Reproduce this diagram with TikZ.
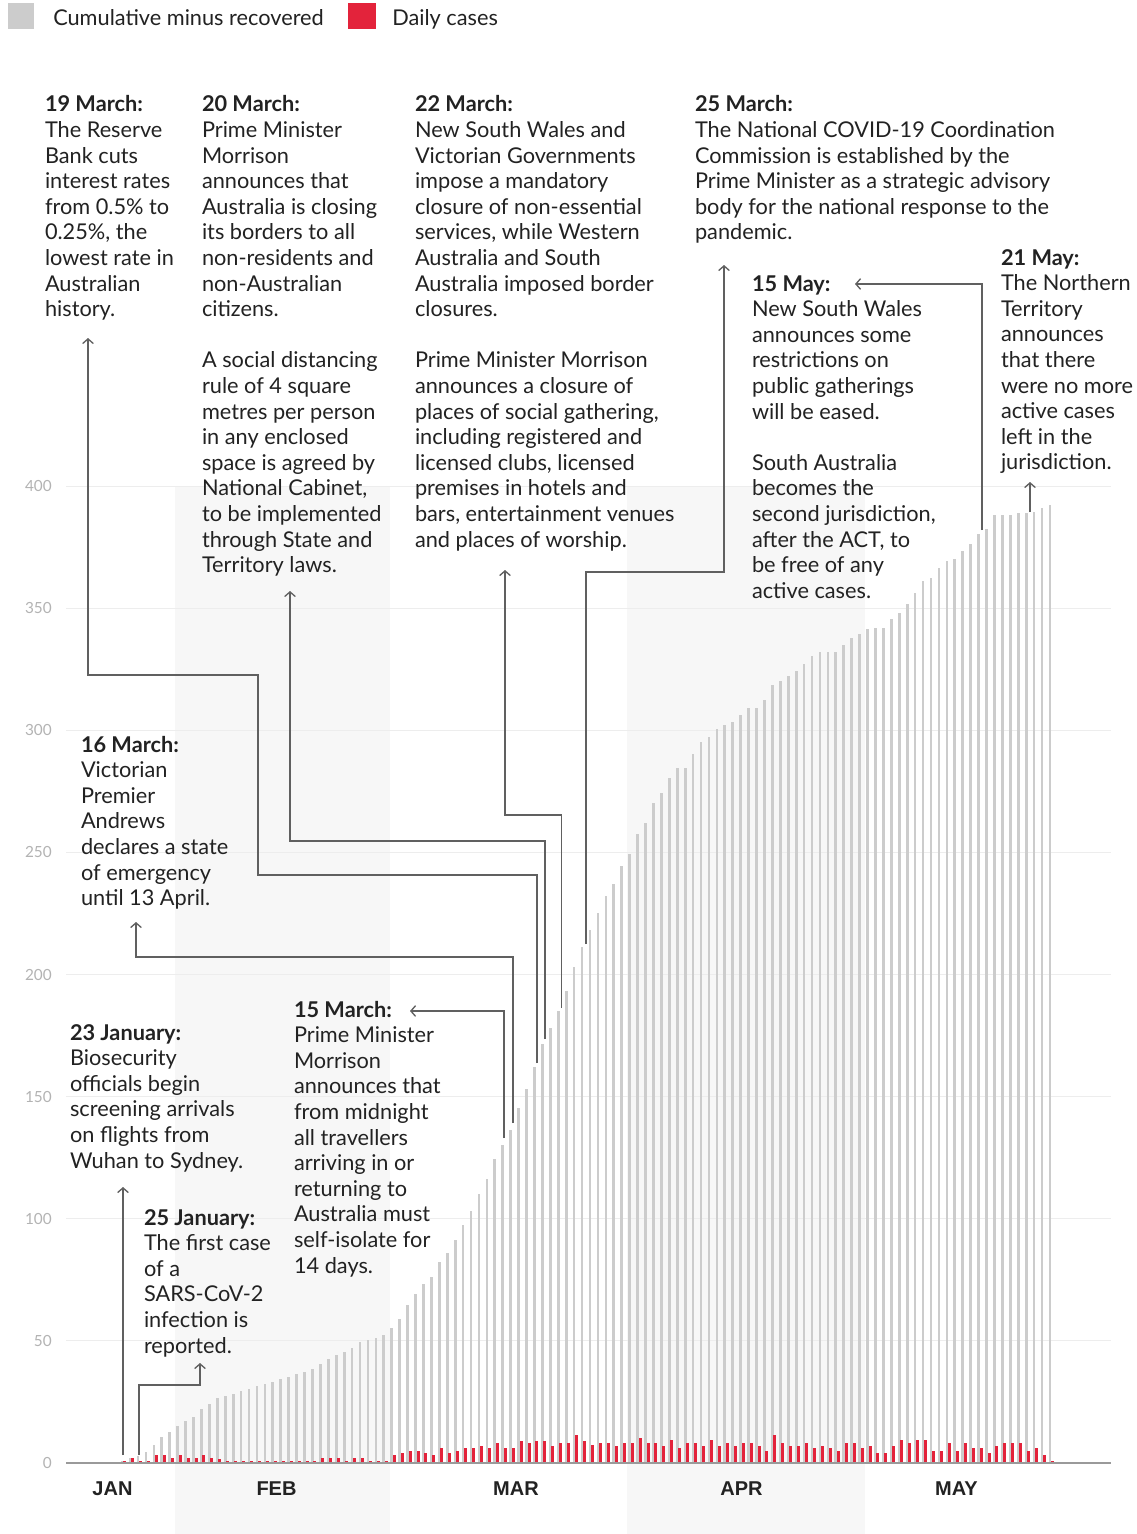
\documentclass[tikz,border=0pt]{standalone}
\usepackage{fontspec}
\setmainfont{Lato}
\newfontfamily\monthfont{Liberation Sans}
\usetikzlibrary{arrows.meta}
\definecolor{txtc}{HTML}{222222}
\definecolor{barg}{HTML}{CCCCCC}
\definecolor{barr}{HTML}{E3233B}
\definecolor{bandc}{HTML}{F7F7F7}
\definecolor{gridc}{HTML}{EDEDED}
\definecolor{connc}{HTML}{606060}
\definecolor{axlab}{HTML}{B3B3B3}
\definecolor{axisc}{HTML}{9A9A9A}
\newcommand\annblock[1]{\begin{tabular}[t]{@{}l@{}}#1\end{tabular}}
\tikzset{
  ann/.style={anchor=base west, inner sep=0pt, outer sep=0pt, text=txtc, font=\fontsize{16.3}{19.2}\selectfont},
  legtext/.style={anchor=base west, inner sep=0pt, text=txtc, font=\fontsize{16.3}{19.2}\selectfont},
  monthlab/.style={inner sep=0pt, text=txtc, font=\monthfont\bfseries\fontsize{15}{18}\selectfont},
  ylab/.style={anchor=east, inner sep=0pt, text=axlab, font=\fontsize{11.5}{14}\selectfont},
  link/.style={draw=connc, line width=1pt, -{Straight Barb[length=3.5pt,width=8pt]}},
}
\begin{document}
\begin{tikzpicture}[x=0.75pt, y=-0.75pt]
\useasboundingbox (0,0) rectangle (1137,1534);
\fill[white] (0,0) rectangle (1137,1534);
% month bands
\fill[bandc] (175,486) rectangle (390,1534);
\fill[bandc] (627,486) rectangle (865,1534);
% grid lines and y labels
\foreach \v in {50,100,...,400} {
  \draw[gridc, line width=0.75pt] (66,{1463-2.4425*\v}) -- (1111,{1463-2.4425*\v});
}
\foreach \v in {0,50,100,...,400} {
  \node[ylab] (ylab\v) at (52,{1463-2.4425*\v}) {\v};
}
% gray bars (cumulative minus recovered)
\foreach \v [count=\i from 0] in {0,1,2,3,4.5,7.5,10.5,12.5,15,17,
19,22,24,26.6,27.4,28.4,29.5,30.4,31.4,32.2,
33.3,34.3,35.2,36.3,37.3,38.4,40.4,42.5,44.2,45.4,
47.2,49.5,50.5,51.3,52.4,55.4,59,64.5,69.3,73.3,
76.2,82.3,86.1,91.2,97.4,103.2,110.3,116.2,124.3,130.2,
136.2,145.2,153.2,162.1,171.4,178.2,185.1,193.2,203.1,211.3,
218.1,225.3,232.1,237.2,244.3,249.2,257.4,262.2,270.3,274.4,
280.3,284.4,284.4,290.2,295.3,297.4,300.4,302.1,303.2,306.2,
309.2,309.2,312.4,318.4,320.3,322.3,324.4,327.2,330.3,332.2,
332.2,332.2,335,337.9,339.3,341.3,342,342,345.4,348.1,
351.6,356.3,361.1,362.5,366.6,369.3,370.2,373.4,376.4,380.5,
382.3,388.1,388.1,388.1,389.1,389.1,389.5,391.1,392.2} {
  \fill[barg] ({114.2+7.93*\i-1.35},1463) rectangle ({114.2+7.93*\i+1.35},{1463-2.4425*\v});
}
% red bars (daily cases)
\foreach \v [count=\i from 0] in {0,0.7,2,0.7,0.7,3.1,3.1,2,3.1,2,
2,3.1,2,1.7,0.85,0.85,0.85,0.85,0.85,0.85,
0.85,0.85,0.85,0.85,0.85,0.85,2,2,2,0.85,
2,2,0.85,0.85,0.85,3.1,4.2,5.1,5.1,4,
3.1,6.1,4.2,5.1,6.1,6.1,7.1,6.1,8.2,6.1,
6.1,9.2,8.2,9.2,9.2,7.1,8.2,8.2,11.3,9.2,
7.5,8.3,8.3,7.1,8.3,8.3,10.3,8.3,8.3,7.1,
9.3,6.1,8.3,8.3,7.1,9.3,7.1,8.3,7.1,8.3,
8.3,7.1,5.1,11.4,8.3,7.1,7.1,8.3,6.1,7.1,
6.1,5.1,8.3,8.3,6.1,7.1,4,4,7.1,9.3,
8.3,9.3,9.3,5.1,5.1,8.3,5.1,8.3,6.1,6.1,
4,7.1,8.3,8.3,8.3,5.1,6.1,3.1,0.9} {
  \fill[barr] ({116.7+7.93*\i-1.5},1463) rectangle ({116.7+7.93*\i+1.5},{1463-2.4425*\v});
}
% zero axis
\draw[axisc, line width=1.1pt] (66,1463) -- (1111,1463);
% month labels
\node[monthlab] (jan) at (112.5,1489) {JAN};
\node[monthlab] (feb) at (276.5,1489) {FEB};
\node[monthlab] (mar) at (516,1489) {MAR};
\node[monthlab] (apr) at (741.5,1489) {APR};
\node[monthlab] (may) at (956.5,1489) {MAY};
% legend
\fill[barg] (8,3) rectangle (34,29);
\node[legtext] (leg1) at (53,26) {Cumulative minus recovered};
\fill[barr] (348,3) rectangle (376,29);
\node[legtext] (leg2) at (392,26) {Daily cases};
% annotations
\node[ann] (a19mar) at (45,112) {\annblock{\textbf{19 March:}\\The Reserve\\Bank cuts\\interest rates\\from 0.5\% to\\0.25\%, the\\lowest rate in\\Australian\\history.}};
\node[ann] (a20mar) at (202,112) {\annblock{\textbf{20 March:}\\Prime Minister\\Morrison\\announces that\\Australia is closing\\its borders to all\\non-residents and\\non-Australian\\citizens.\\ \\A social distancing\\rule of 4 square\\metres per person\\in any enclosed\\space is agreed by\\National Cabinet,\\to be implemented\\through State and\\Territory laws.}};
\node[ann] (a22mar) at (415,112) {\annblock{\textbf{22 March:}\\New South Wales and\\Victorian Governments\\impose a mandatory\\closure of non-essential\\services, while Western\\Australia and South\\Australia imposed border\\closures.\\ \\Prime Minister Morrison\\announces a closure of\\places of social gathering,\\including registered and\\licensed clubs, licensed\\premises in hotels and\\bars, entertainment venues\\and places of worship.}};
\node[ann] (a25mar) at (695,112) {\annblock{\textbf{25 March:}\\The National COVID-19 Coordination\\Commission is established by the\\Prime Minister as a strategic advisory\\body for the national response to the\\pandemic.}};
\node[ann] (a15may) at (752,291) {\annblock{\textbf{15 May:}\\New South Wales\\announces some\\restrictions on\\public gatherings\\will be eased.\\ \\South Australia\\becomes the\\second jurisdiction,\\after the ACT, to\\be free of any\\active cases.}};
\node[ann] (a21may) at (1001,265) {\annblock{\textbf{21 May:}\\The Northern\\Territory\\announces\\that there\\were no more\\active cases\\left in the\\jurisdiction.}};
\node[ann] (a16mar) at (81,752) {\annblock{\textbf{16 March:}\\Victorian\\Premier\\Andrews\\declares a state\\of emergency\\until 13 April.}};
\node[ann] (a23jan) at (70,1040) {\annblock{\textbf{23 January:}\\Biosecurity\\officials begin\\screening arrivals\\on flights from\\Wuhan to Sydney.}};
\node[ann] (a25jan) at (144,1225) {\annblock{\textbf{25 January:}\\The first case\\of a\\SARS-CoV-2\\infection is\\reported.}};
\node[ann] (a15mar) at (294,1017) {\annblock{\textbf{15 March:}\\Prime Minister\\Morrison\\announces that\\from midnight\\all travellers\\arriving in or\\returning to\\Australia must\\self-isolate for\\14 days.}};
% connector end points
\coordinate (b23jan) at (123,1455);  \coordinate (t23jan) at (123,1187);
\coordinate (b25jan) at (139,1455);  \coordinate (t25jan) at (200,1363);
\coordinate (b16mar) at (513,1123);  \coordinate (t16mar) at (136,922);
\coordinate (b15mar) at (504,1138);  \coordinate (t15mar) at (410,1011);
\coordinate (b19mar) at (537,1063);  \coordinate (t19mar) at (88,338);
\coordinate (b20mar) at (545,1039);  \coordinate (t20mar) at (290,591);
\coordinate (b22mar) at (561.7,1008); \coordinate (t22mar) at (505,570);
\coordinate (b25mar) at (586,944);   \coordinate (t25mar) at (724,265);
\coordinate (b15may) at (982,530);   \coordinate (t15may) at (855,284);
\coordinate (b21may) at (1030,512);  \coordinate (t21may) at (1030,482);
% connectors
\draw[link] (b23jan) -- (t23jan);
\draw[link] (b25jan) -- ++(0,-70) -| (t25jan);
\draw[link] (b16mar) -- ++(0,-166) -| (t16mar);
\draw[link] (b15mar) |- (t15mar);
\draw[link] (b19mar) -- ++(0,-188) -- ++(-279,0) -- ++(0,-200) -| (t19mar);
\draw[link] (b20mar) -- ++(0,-198) -| (t20mar);
\draw[link] (b22mar) -- ++(0,-193) -| (t22mar);
\draw[link] (b25mar) -- ++(0,-372) -| (t25mar);
\draw[link] (b15may) |- (t15may);
\draw[link] (b21may) -- (t21may);
\end{tikzpicture}
\end{document}
